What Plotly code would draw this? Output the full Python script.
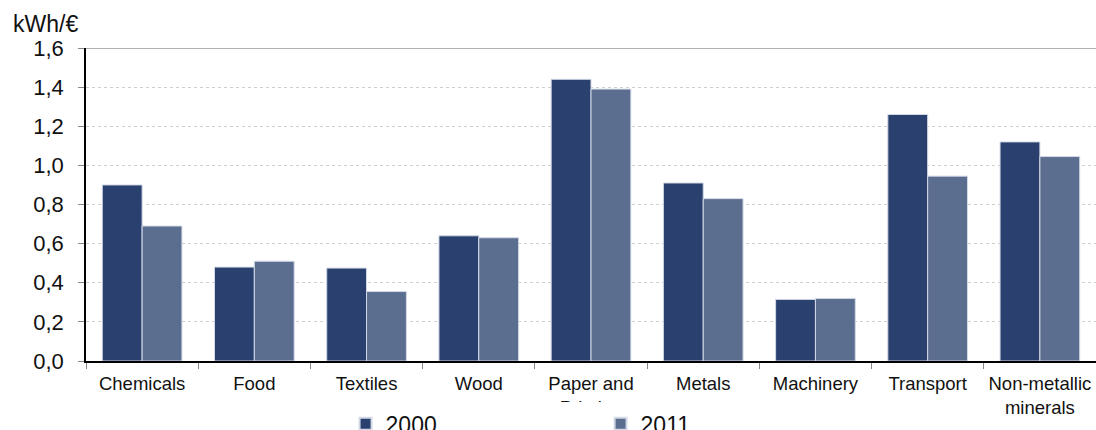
import plotly.graph_objects as go

# Energy intensity by industrial sector
sectors = ["Chemicals", "Food", "Textiles", "Wood", "Paper and<br>Printing",
           "Metals", "Machinery", "Transport", "Non-metallic<br>minerals"]
values_2000 = [0.90, 0.48, 0.475, 0.64, 1.44, 0.91, 0.315, 1.26, 1.12]
values_2011 = [0.69, 0.51, 0.355, 0.63, 1.39, 0.83, 0.32, 0.945, 1.045]
y_ticks = [0.0, 0.2, 0.4, 0.6, 0.8, 1.0, 1.2, 1.4, 1.6]

fig = go.Figure()
fig.add_trace(go.Bar(
    x=sectors, y=values_2000, name="2000",
    marker=dict(color="#2A4170", line=dict(color="#D3D9E6", width=1)),
))
fig.add_trace(go.Bar(
    x=sectors, y=values_2011, name="2011",
    marker=dict(color="#5C6E8F", line=dict(color="#D3D9E6", width=1)),
))

font_family = "Liberation Sans, Arial, sans-serif"

fig.update_layout(
    width=1096, height=430,
    margin=dict(l=86, r=0, t=48, b=69, autoexpand=False),
    paper_bgcolor="white", plot_bgcolor="white",
    separators=",.",
    barmode="group", bargap=0.29, bargroupgap=0,
    font=dict(family=font_family, color="#111111"),
    showlegend=True,
    legend=dict(
        orientation="h", x=0.257, xanchor="left", y=-0.132, yanchor="top",
        bgcolor="white", font=dict(size=23, family=font_family, color="#111111"),
        entrywidth=210, entrywidthmode="pixels",
        tracegroupgap=0, itemsizing="constant",
    ),
    xaxis=dict(
        showline=True, linecolor="black", linewidth=1.5,
        ticks="outside", tickson="boundaries", ticklen=6, tickcolor="#888888",
        tickfont=dict(size=18.5, color="#111111"), ticklabelstandoff=5,
        showgrid=False,
    ),
    yaxis=dict(
        range=[0, 1.6], tickvals=y_ticks, tickformat=".1f",
        showline=True, linecolor="black", linewidth=1.5,
        ticks="outside", ticklen=6, tickcolor="#888888",
        tickfont=dict(size=22, color="#111111"), ticklabelstandoff=10,
        showgrid=True, gridcolor="#CFCFCF", griddash="dot", gridwidth=1,
        zeroline=False,
    ),
)

# Solid top border at the axis maximum
fig.add_shape(type="line", xref="paper", yref="y", x0=0, x1=1, y0=1.6, y1=1.6,
              line=dict(color="#999999", width=1.5))

# Unit label above the value axis
fig.add_annotation(text="kWh/€", xref="paper", yref="paper",
                   x=-0.074, y=1.077, xanchor="left", yanchor="middle",
                   showarrow=False, font=dict(size=23, family=font_family, color="#111111"))

fig.write_html("out.html")
